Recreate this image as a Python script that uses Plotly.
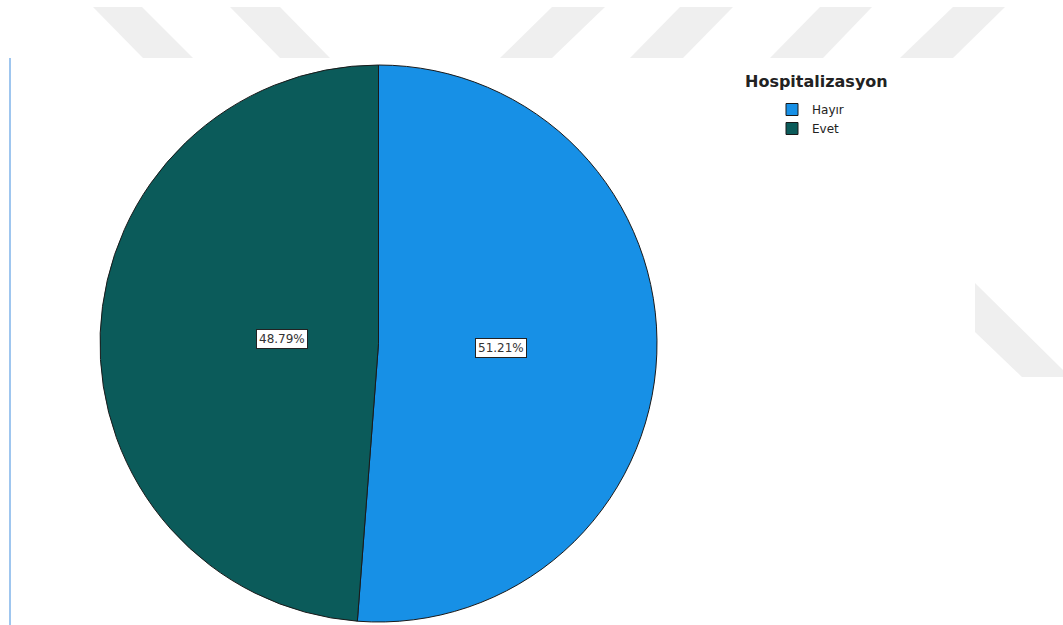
import math
import plotly.graph_objects as go

# ---- data ----
labels = ["Hayır", "Evet"]
values = [51.21, 48.79]
colors = ["#1790e6", "#0b5b5a"]
legend_title = "Hospitalizasyon"

W, H = 1063, 625
# pie geometry in pixels
cx, cy, r = 378.5, 343.5, 278.5

fig = go.Figure()
fig.add_trace(go.Pie(
    labels=labels,
    values=values,
    sort=False,
    direction="clockwise",
    rotation=0,
    marker=dict(colors=colors, line=dict(color="#1a1a1a", width=1)),
    textinfo="none",
    hoverinfo="label+percent",
    domain=dict(x=[(cx - r) / W, (cx + r) / W], y=[(H - cy - r) / H, (H - cy + r) / H]),
))

# percentage labels in boxes, placed along each slice's mid angle
annotations = []
total = sum(values)
cum = 0.0
for lab, v in zip(labels, values):
    mid = (cum + v / 2) / total * 2 * math.pi
    cum += v
    px = cx + 0.44 * r * math.sin(mid)
    py = cy - 0.44 * r * math.cos(mid)
    annotations.append(dict(
        x=px / W, y=1 - py / H, xref="paper", yref="paper",
        text=f"{v / total * 100:.2f}%", showarrow=False,
        font=dict(family="DejaVu Sans", size=12, color="#333333"),
        bgcolor="white", bordercolor="#222222", borderwidth=1, borderpad=2,
    ))

# legend title as a separate text block
annotations.append(dict(
    x=743 / W, y=1 - 82 / H, xref="paper", yref="paper", xanchor="left", yanchor="middle",
    text=f"<b>{legend_title}</b>", showarrow=False,
    font=dict(family="DejaVu Sans", size=16, color="#222222"),
))

# decorative watermark stripes (background)
def P(pts):
    return "M " + " L ".join(f"{x / W:.5f},{1 - y / H:.5f}" for x, y in pts) + " Z"

stripes = [
    [(93, 7), (142, 7), (193, 58), (143, 58)],
    [(230, 7), (280, 7), (330, 58), (280, 58)],
    [(552, 7), (605, 7), (552, 58), (500, 58)],
    [(680, 7), (733, 7), (683, 58), (630, 58)],
    [(820, 7), (872, 7), (823, 58), (770, 58)],
    [(953, 7), (1005, 7), (953, 58), (900, 58)],
    [(975, 283), (1063, 370), (1063, 377), (1022, 377), (975, 332)],
]
shapes = [dict(type="path", path=P(s), xref="paper", yref="paper",
               fillcolor="#efefef", line=dict(width=0), layer="below") for s in stripes]
shapes.append(dict(type="line", xref="paper", yref="paper",
                   x0=10 / W, x1=10 / W, y0=0, y1=1 - 58 / H,
                   line=dict(color="#7fb3ea", width=1.5)))

fig.update_layout(
    width=W, height=H,
    margin=dict(l=0, r=0, t=0, b=0),
    paper_bgcolor="white", plot_bgcolor="white",
    showlegend=True,
    legend=dict(
        x=772 / W, y=1 - 95 / H, xanchor="left", yanchor="top",
        font=dict(family="DejaVu Sans", size=12, color="#222222"),
        bgcolor="rgba(0,0,0,0)", tracegroupgap=0, itemwidth=30,
    ),
    annotations=annotations,
    shapes=shapes,
)

fig.write_html("out.html", config={"displayModeBar": False},
               post_script="document.body.style.margin='0';document.body.style.overflow='hidden';")
